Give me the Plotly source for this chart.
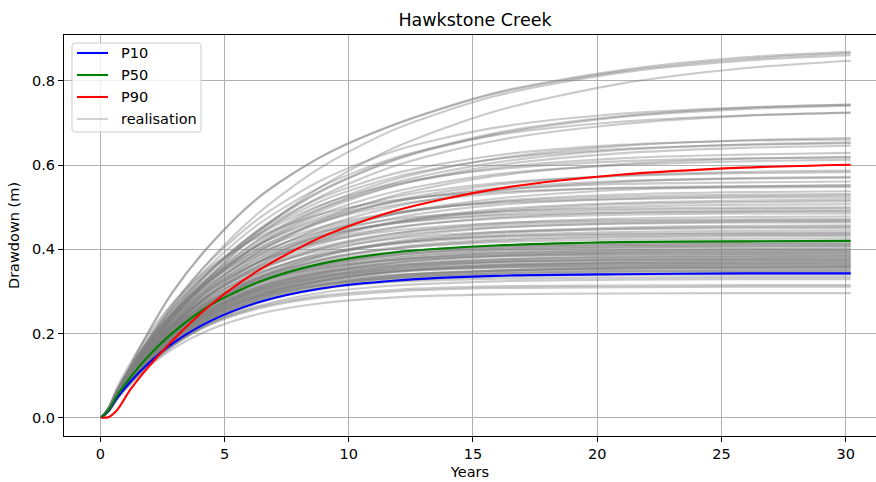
import plotly.graph_objects as go

# Sample times (years) shared by every drawdown curve
years = [0.05, 0.35, 0.7, 1.2, 1.9, 2.9, 4.4, 6.4, 8.9, 11.9, 15.9, 20.9, 25.9, 30.2]

# Percentile curves (drawdown, m)
p10 = [0, 0.018, 0.049, 0.085, 0.127, 0.176, 0.229, 0.275, 0.307, 0.326, 0.337, 0.341, 0.343, 0.343]
p50 = [0, 0.020, 0.055, 0.095, 0.144, 0.201, 0.266, 0.323, 0.366, 0.393, 0.409, 0.417, 0.419, 0.420]
p90 = [0, 0.002, 0.020, 0.066, 0.118, 0.183, 0.266, 0.351, 0.429, 0.492, 0.543, 0.577, 0.594, 0.601]

# Individual model realisations (drawdown, m)
realisations = [
    [0, 0.024, 0.062, 0.122, 0.200, 0.298, 0.410, 0.525, 0.620, 0.697, 0.770, 0.822, 0.852, 0.866],
    [0, 0.024, 0.062, 0.121, 0.199, 0.297, 0.409, 0.524, 0.620, 0.698, 0.772, 0.825, 0.856, 0.869],
    [0, 0.023, 0.065, 0.116, 0.181, 0.265, 0.373, 0.488, 0.595, 0.686, 0.764, 0.819, 0.848, 0.861],
    [0, 0.020, 0.057, 0.101, 0.160, 0.235, 0.334, 0.443, 0.549, 0.643, 0.728, 0.793, 0.830, 0.848],
    [0, 0.022, 0.062, 0.110, 0.171, 0.249, 0.347, 0.448, 0.540, 0.615, 0.676, 0.716, 0.736, 0.744],
    [0, 0.022, 0.062, 0.109, 0.170, 0.248, 0.345, 0.446, 0.538, 0.613, 0.673, 0.714, 0.733, 0.741],
    [0, 0.024, 0.068, 0.120, 0.186, 0.269, 0.371, 0.474, 0.564, 0.635, 0.689, 0.722, 0.737, 0.743],
    [0, 0.021, 0.060, 0.107, 0.167, 0.242, 0.337, 0.436, 0.526, 0.599, 0.658, 0.697, 0.717, 0.725],
    [0, 0.023, 0.066, 0.117, 0.181, 0.262, 0.361, 0.461, 0.549, 0.618, 0.671, 0.703, 0.718, 0.724],
    [0, 0.021, 0.061, 0.107, 0.166, 0.240, 0.331, 0.424, 0.504, 0.567, 0.615, 0.645, 0.659, 0.664],
    [0, 0.023, 0.066, 0.117, 0.180, 0.258, 0.352, 0.445, 0.523, 0.581, 0.623, 0.648, 0.658, 0.661],
    [0, 0.021, 0.060, 0.106, 0.164, 0.237, 0.326, 0.417, 0.497, 0.559, 0.606, 0.636, 0.649, 0.654],
    [0, 0.023, 0.065, 0.115, 0.177, 0.254, 0.347, 0.438, 0.515, 0.572, 0.614, 0.638, 0.648, 0.652],
    [0, 0.021, 0.059, 0.104, 0.162, 0.234, 0.322, 0.412, 0.491, 0.552, 0.599, 0.628, 0.641, 0.646],
    [0, 0.022, 0.063, 0.111, 0.171, 0.245, 0.335, 0.423, 0.497, 0.552, 0.593, 0.616, 0.625, 0.629],
    [0, 0.020, 0.057, 0.100, 0.155, 0.224, 0.309, 0.395, 0.470, 0.529, 0.574, 0.602, 0.615, 0.620],
    [0, 0.024, 0.068, 0.118, 0.181, 0.258, 0.349, 0.435, 0.506, 0.556, 0.590, 0.609, 0.616, 0.618],
    [0, 0.022, 0.062, 0.108, 0.167, 0.239, 0.326, 0.412, 0.484, 0.538, 0.578, 0.600, 0.609, 0.613],
    [0, 0.021, 0.059, 0.104, 0.160, 0.229, 0.313, 0.395, 0.464, 0.516, 0.553, 0.575, 0.584, 0.587],
    [0, 0.023, 0.064, 0.112, 0.171, 0.244, 0.329, 0.411, 0.477, 0.525, 0.557, 0.574, 0.581, 0.583],
    [0, 0.020, 0.057, 0.101, 0.156, 0.223, 0.305, 0.385, 0.452, 0.502, 0.539, 0.560, 0.569, 0.572],
    [0, 0.022, 0.062, 0.109, 0.167, 0.238, 0.322, 0.402, 0.467, 0.513, 0.545, 0.562, 0.568, 0.570],
    [0, 0.023, 0.066, 0.115, 0.176, 0.248, 0.333, 0.411, 0.472, 0.514, 0.541, 0.555, 0.559, 0.561],
    [0, 0.023, 0.065, 0.113, 0.173, 0.244, 0.327, 0.404, 0.465, 0.506, 0.532, 0.546, 0.550, 0.552],
    [0, 0.020, 0.055, 0.097, 0.150, 0.215, 0.294, 0.371, 0.437, 0.485, 0.520, 0.541, 0.549, 0.552],
    [0, 0.027, 0.075, 0.129, 0.195, 0.271, 0.356, 0.430, 0.484, 0.517, 0.536, 0.545, 0.547, 0.548],
    [0, 0.021, 0.059, 0.103, 0.158, 0.225, 0.304, 0.379, 0.441, 0.484, 0.514, 0.530, 0.536, 0.538],
    [0, 0.020, 0.058, 0.101, 0.155, 0.221, 0.298, 0.372, 0.432, 0.475, 0.505, 0.520, 0.526, 0.528],
    [0, 0.022, 0.063, 0.109, 0.166, 0.235, 0.315, 0.389, 0.447, 0.486, 0.512, 0.525, 0.530, 0.531],
    [0, 0.024, 0.067, 0.116, 0.176, 0.247, 0.327, 0.399, 0.453, 0.488, 0.510, 0.519, 0.523, 0.523],
    [0, 0.020, 0.057, 0.099, 0.152, 0.217, 0.293, 0.365, 0.424, 0.466, 0.495, 0.510, 0.516, 0.518],
    [0, 0.020, 0.056, 0.098, 0.151, 0.215, 0.290, 0.362, 0.421, 0.463, 0.491, 0.507, 0.512, 0.514],
    [0, 0.021, 0.060, 0.104, 0.159, 0.225, 0.301, 0.371, 0.427, 0.465, 0.489, 0.501, 0.506, 0.507],
    [0, 0.024, 0.068, 0.118, 0.178, 0.247, 0.325, 0.392, 0.442, 0.472, 0.489, 0.497, 0.499, 0.500],
    [0, 0.023, 0.063, 0.110, 0.167, 0.234, 0.310, 0.378, 0.430, 0.463, 0.483, 0.493, 0.496, 0.497],
    [0, 0.021, 0.058, 0.101, 0.154, 0.218, 0.292, 0.360, 0.414, 0.451, 0.475, 0.487, 0.491, 0.492],
    [0, 0.024, 0.067, 0.115, 0.174, 0.243, 0.318, 0.385, 0.433, 0.462, 0.480, 0.487, 0.489, 0.490],
    [0, 0.022, 0.062, 0.108, 0.163, 0.229, 0.303, 0.370, 0.420, 0.453, 0.473, 0.482, 0.485, 0.485],
    [0, 0.020, 0.056, 0.098, 0.150, 0.212, 0.283, 0.350, 0.402, 0.438, 0.461, 0.473, 0.477, 0.478],
    [0, 0.023, 0.064, 0.111, 0.168, 0.234, 0.307, 0.370, 0.417, 0.445, 0.462, 0.469, 0.471, 0.472],
    [0, 0.021, 0.060, 0.104, 0.158, 0.221, 0.293, 0.358, 0.406, 0.438, 0.457, 0.466, 0.469, 0.469],
    [0, 0.020, 0.055, 0.096, 0.146, 0.207, 0.277, 0.342, 0.393, 0.428, 0.451, 0.462, 0.466, 0.467],
    [0, 0.021, 0.059, 0.103, 0.156, 0.219, 0.290, 0.354, 0.402, 0.433, 0.452, 0.461, 0.464, 0.464],
    [0, 0.019, 0.054, 0.094, 0.143, 0.202, 0.271, 0.335, 0.385, 0.419, 0.441, 0.452, 0.456, 0.457],
    [0, 0.019, 0.053, 0.093, 0.142, 0.201, 0.269, 0.333, 0.382, 0.416, 0.438, 0.449, 0.453, 0.454],
    [0, 0.022, 0.061, 0.106, 0.160, 0.223, 0.293, 0.354, 0.398, 0.426, 0.441, 0.448, 0.450, 0.451],
    [0, 0.020, 0.057, 0.098, 0.149, 0.210, 0.278, 0.339, 0.385, 0.415, 0.433, 0.441, 0.444, 0.445],
    [0, 0.022, 0.060, 0.104, 0.156, 0.218, 0.286, 0.345, 0.389, 0.415, 0.431, 0.437, 0.439, 0.440],
    [0, 0.021, 0.060, 0.103, 0.156, 0.217, 0.285, 0.344, 0.387, 0.413, 0.429, 0.435, 0.437, 0.438],
    [0, 0.020, 0.055, 0.096, 0.146, 0.205, 0.271, 0.331, 0.376, 0.405, 0.423, 0.431, 0.434, 0.435],
    [0, 0.020, 0.055, 0.096, 0.145, 0.203, 0.269, 0.329, 0.374, 0.402, 0.420, 0.428, 0.431, 0.432],
    [0, 0.021, 0.058, 0.100, 0.151, 0.211, 0.277, 0.334, 0.376, 0.402, 0.417, 0.423, 0.425, 0.426],
    [0, 0.019, 0.054, 0.093, 0.141, 0.198, 0.262, 0.320, 0.363, 0.391, 0.408, 0.416, 0.419, 0.420],
    [0, 0.020, 0.057, 0.098, 0.148, 0.206, 0.270, 0.327, 0.367, 0.393, 0.407, 0.413, 0.415, 0.416],
    [0, 0.019, 0.053, 0.092, 0.139, 0.195, 0.258, 0.315, 0.358, 0.386, 0.403, 0.410, 0.413, 0.414],
    [0, 0.022, 0.060, 0.104, 0.155, 0.215, 0.279, 0.334, 0.371, 0.394, 0.406, 0.410, 0.412, 0.412],
    [0, 0.020, 0.056, 0.096, 0.146, 0.203, 0.266, 0.322, 0.362, 0.387, 0.401, 0.407, 0.409, 0.410],
    [0, 0.018, 0.052, 0.090, 0.137, 0.192, 0.254, 0.311, 0.353, 0.380, 0.397, 0.404, 0.407, 0.408],
    [0, 0.021, 0.059, 0.102, 0.153, 0.212, 0.275, 0.329, 0.366, 0.388, 0.400, 0.404, 0.406, 0.406],
    [0, 0.018, 0.051, 0.089, 0.135, 0.189, 0.251, 0.306, 0.348, 0.375, 0.391, 0.398, 0.401, 0.402],
    [0, 0.021, 0.058, 0.101, 0.151, 0.209, 0.271, 0.324, 0.361, 0.382, 0.394, 0.398, 0.400, 0.400],
    [0, 0.019, 0.054, 0.094, 0.141, 0.197, 0.259, 0.312, 0.351, 0.376, 0.390, 0.395, 0.397, 0.398],
    [0, 0.018, 0.051, 0.088, 0.133, 0.186, 0.247, 0.301, 0.342, 0.369, 0.385, 0.393, 0.395, 0.396],
    [0, 0.021, 0.058, 0.099, 0.149, 0.205, 0.267, 0.319, 0.355, 0.376, 0.388, 0.392, 0.394, 0.394],
    [0, 0.019, 0.053, 0.092, 0.139, 0.194, 0.255, 0.308, 0.346, 0.370, 0.384, 0.390, 0.391, 0.392],
    [0, 0.019, 0.053, 0.092, 0.139, 0.193, 0.253, 0.306, 0.344, 0.368, 0.382, 0.388, 0.389, 0.390],
    [0, 0.022, 0.061, 0.105, 0.156, 0.214, 0.274, 0.324, 0.357, 0.375, 0.384, 0.387, 0.388, 0.388],
    [0, 0.018, 0.049, 0.085, 0.130, 0.182, 0.241, 0.294, 0.334, 0.360, 0.375, 0.383, 0.385, 0.386],
    [0, 0.019, 0.052, 0.090, 0.136, 0.190, 0.249, 0.301, 0.339, 0.362, 0.376, 0.382, 0.383, 0.384],
    [0, 0.020, 0.056, 0.096, 0.144, 0.199, 0.259, 0.309, 0.344, 0.365, 0.376, 0.380, 0.382, 0.382],
    [0, 0.017, 0.048, 0.084, 0.128, 0.179, 0.237, 0.289, 0.329, 0.354, 0.370, 0.377, 0.379, 0.380],
    [0, 0.018, 0.051, 0.089, 0.134, 0.187, 0.246, 0.297, 0.334, 0.357, 0.370, 0.376, 0.377, 0.378],
    [0, 0.020, 0.055, 0.094, 0.142, 0.196, 0.255, 0.304, 0.339, 0.359, 0.370, 0.374, 0.376, 0.376],
    [0, 0.021, 0.059, 0.101, 0.151, 0.207, 0.265, 0.313, 0.345, 0.362, 0.371, 0.374, 0.375, 0.375],
    [0, 0.017, 0.048, 0.083, 0.125, 0.176, 0.233, 0.284, 0.323, 0.348, 0.363, 0.370, 0.372, 0.373],
    [0, 0.020, 0.054, 0.093, 0.140, 0.193, 0.251, 0.300, 0.334, 0.354, 0.365, 0.369, 0.371, 0.371],
    [0, 0.018, 0.050, 0.087, 0.131, 0.183, 0.240, 0.290, 0.326, 0.348, 0.361, 0.367, 0.368, 0.369],
    [0, 0.018, 0.050, 0.087, 0.131, 0.182, 0.239, 0.289, 0.325, 0.347, 0.360, 0.366, 0.367, 0.368],
    [0, 0.021, 0.058, 0.099, 0.147, 0.202, 0.259, 0.306, 0.336, 0.353, 0.362, 0.365, 0.366, 0.366],
    [0, 0.019, 0.053, 0.091, 0.137, 0.190, 0.247, 0.295, 0.328, 0.348, 0.358, 0.362, 0.364, 0.364],
    [0, 0.019, 0.053, 0.091, 0.137, 0.189, 0.245, 0.293, 0.326, 0.346, 0.356, 0.360, 0.362, 0.362],
    [0, 0.021, 0.057, 0.097, 0.145, 0.199, 0.255, 0.301, 0.332, 0.349, 0.357, 0.360, 0.361, 0.361],
    [0, 0.016, 0.046, 0.079, 0.121, 0.169, 0.224, 0.273, 0.310, 0.334, 0.349, 0.356, 0.358, 0.359],
    [0, 0.018, 0.049, 0.084, 0.127, 0.177, 0.233, 0.281, 0.316, 0.338, 0.350, 0.356, 0.357, 0.358],
    [0, 0.017, 0.049, 0.084, 0.127, 0.177, 0.232, 0.280, 0.315, 0.337, 0.349, 0.355, 0.356, 0.357],
    [0, 0.019, 0.052, 0.089, 0.134, 0.185, 0.241, 0.287, 0.320, 0.339, 0.349, 0.354, 0.355, 0.355],
    [0, 0.020, 0.055, 0.095, 0.142, 0.194, 0.249, 0.294, 0.324, 0.340, 0.348, 0.351, 0.352, 0.352],
    [0, 0.017, 0.048, 0.082, 0.124, 0.173, 0.227, 0.275, 0.309, 0.330, 0.343, 0.348, 0.349, 0.350],
    [0, 0.018, 0.051, 0.088, 0.132, 0.182, 0.236, 0.283, 0.315, 0.333, 0.344, 0.348, 0.349, 0.349],
    [0, 0.020, 0.054, 0.093, 0.139, 0.191, 0.245, 0.289, 0.318, 0.334, 0.342, 0.345, 0.346, 0.346],
    [0, 0.020, 0.054, 0.093, 0.138, 0.189, 0.243, 0.286, 0.315, 0.331, 0.339, 0.342, 0.343, 0.343],
    [0, 0.018, 0.050, 0.085, 0.128, 0.177, 0.230, 0.275, 0.306, 0.325, 0.335, 0.339, 0.340, 0.340],
    [0, 0.019, 0.053, 0.090, 0.134, 0.184, 0.236, 0.279, 0.307, 0.323, 0.330, 0.333, 0.334, 0.334],
    [0, 0.017, 0.048, 0.083, 0.124, 0.172, 0.223, 0.266, 0.297, 0.314, 0.324, 0.328, 0.329, 0.329],
    [0, 0.018, 0.050, 0.085, 0.127, 0.173, 0.223, 0.263, 0.290, 0.304, 0.312, 0.314, 0.315, 0.315],
    [0, 0.018, 0.049, 0.084, 0.125, 0.171, 0.220, 0.260, 0.286, 0.300, 0.308, 0.310, 0.311, 0.311],
    [0, 0.017, 0.047, 0.080, 0.119, 0.163, 0.209, 0.247, 0.272, 0.286, 0.293, 0.295, 0.296, 0.296],
]

x_ticks = [0, 5, 10, 15, 20, 25, 30]
y_ticks = [0.0, 0.2, 0.4, 0.6, 0.8]

# Legend entries: label and line colour
legend_labels = ["P10", "P50", "P90", "realisation"]

FONT = "DejaVu Sans"
GREY = "rgba(128,128,128,0.42)"
BLUE, GREEN, RED = "#0000ff", "#008000", "#ff0000"
legend_colours = [BLUE, GREEN, RED, "rgba(128,128,128,0.35)"]

fig = go.Figure()

for series in realisations:
    fig.add_trace(go.Scatter(
        x=years, y=series, mode="lines", name="realisation",
        line=dict(color=GREY, width=2.1, shape="spline", smoothing=0.8),
        showlegend=False, hoverinfo="skip",
    ))

for name, series, colour in [("P10", p10, BLUE), ("P50", p50, GREEN), ("P90", p90, RED)]:
    fig.add_trace(go.Scatter(
        x=years, y=series, mode="lines", name=name, showlegend=False,
        line=dict(color=colour, width=2.1, shape="spline", smoothing=0.8),
    ))

# Plot-area geometry in pixels, used to place the legend box
L, R, T, B = 64, 876, 35, 436


def px(xp):
    return (xp - L) / (R - L)


def py(yp):
    return (B - yp) / (B - T)


# Rounded legend frame
x0, x1, y0, y1, r = 72, 201, 43, 132, 3
pts = [("M", x0 + r, y0), ("L", x1 - r, y0), ("Q", x1, y0, x1, y0 + r),
       ("L", x1, y1 - r), ("Q", x1, y1, x1 - r, y1), ("L", x0 + r, y1),
       ("Q", x0, y1, x0, y1 - r), ("L", x0, y0 + r), ("Q", x0, y0, x0 + r, y0)]
path = ""
for p in pts:
    cmd, coords = p[0], p[1:]
    pairs = [f"{px(coords[i]):.5f},{py(coords[i + 1]):.5f}" for i in range(0, len(coords), 2)]
    path += cmd + " ".join(pairs) + " "
path += "Z"

shapes = [dict(type="path", path=path, xref="paper", yref="paper", layer="above",
               fillcolor="rgba(255,255,255,0.8)", line=dict(color="#cccccc", width=1))]
annotations = []
for i, (label, colour) in enumerate(zip(legend_labels, legend_colours)):
    yc = 53 + 22 * i
    shapes.append(dict(type="line", xref="paper", yref="paper", layer="above",
                       x0=px(77), x1=px(108), y0=py(yc), y1=py(yc),
                       line=dict(color=colour, width=2.1)))
    annotations.append(dict(text=label, xref="paper", yref="paper", x=px(119), y=py(yc),
                            xanchor="left", yanchor="middle", showarrow=False,
                            font=dict(family=FONT, size=14.5, color="black")))

axis_common = dict(
    showgrid=True, gridcolor="#b0b0b0", gridwidth=1,
    zeroline=False, showline=True, linecolor="black", linewidth=1,
    ticks="outside", ticklen=5, tickwidth=1, tickcolor="black",
    tickfont=dict(family=FONT, size=14.5, color="black"),
)

fig.update_layout(
    width=876, height=482,
    margin=dict(l=L, r=876 - R, t=T, b=482 - B),
    paper_bgcolor="white", plot_bgcolor="white",
    font=dict(family=FONT, size=14.5, color="black"),
    title=dict(text="Hawkstone Creek", x=475 / 876, xanchor="center",
               y=1 - 20 / 482, yanchor="middle", yref="container",
               font=dict(family=FONT, size=17.5, color="black")),
    xaxis=dict(range=[-1.46, 31.22], tickvals=x_ticks, mirror=True,
               title=dict(text="Years", font=dict(family=FONT, size=14.5), standoff=5),
               **axis_common),
    yaxis=dict(range=[-0.0433, 0.909], tickvals=y_ticks, tickformat=".1f",
               title=dict(text="Drawdown (m)", font=dict(family=FONT, size=14.5), standoff=8),
               **axis_common),
    shapes=shapes,
    annotations=annotations,
    showlegend=False,
)

fig.write_html("out.html")
